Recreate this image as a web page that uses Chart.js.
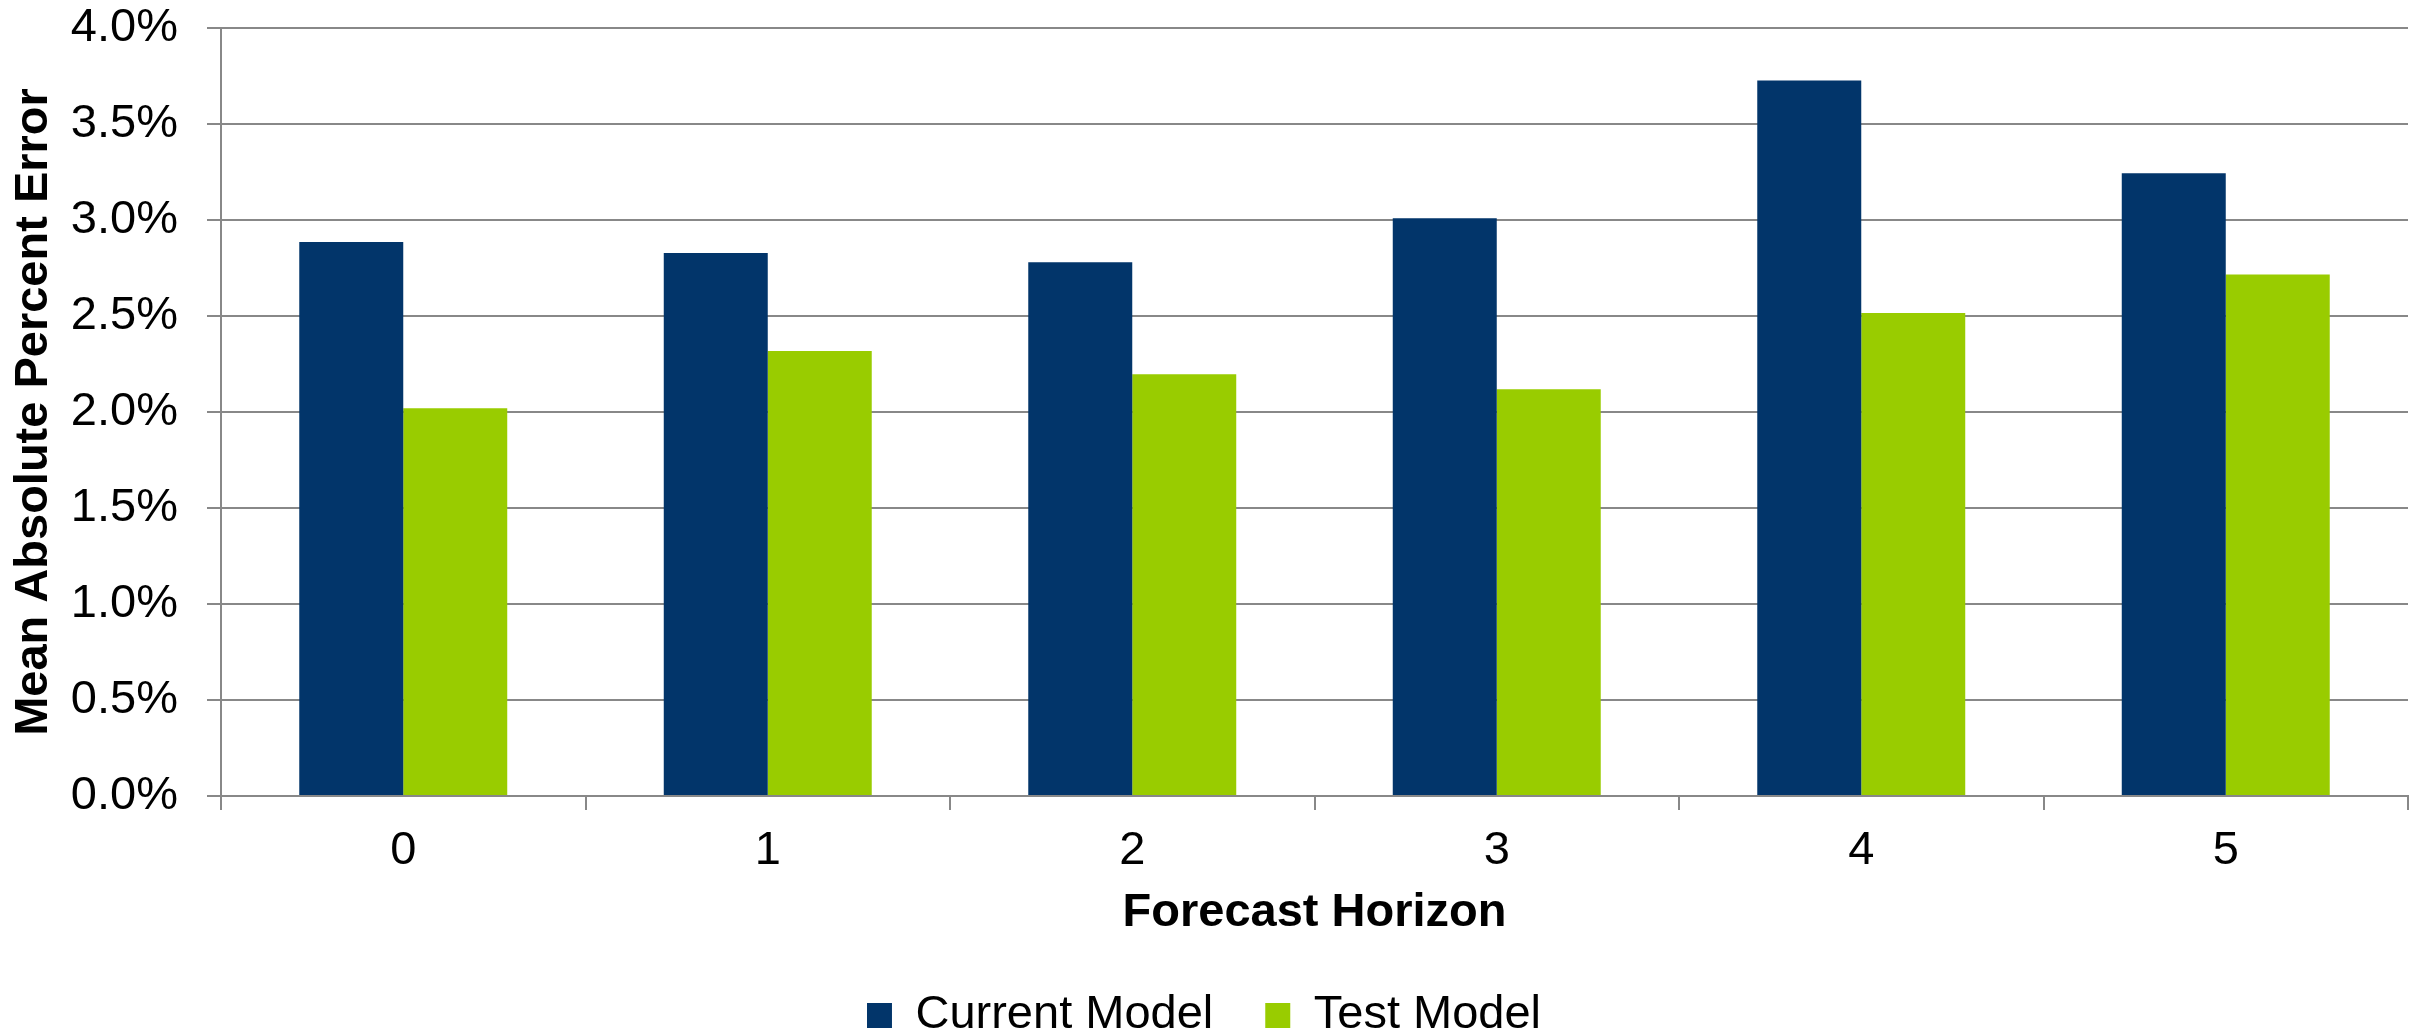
<!DOCTYPE html>
<html>
<head>
<meta charset="utf-8">
<script src="https://cdn.jsdelivr.net/npm/chart.js@4/dist/chart.umd.min.js"></script>
<style>
  html, body { margin: 0; padding: 0; background: #ffffff; }
  #wrap { width: 2425px; height: 1031px; position: relative; }
  canvas { display: block; }
</style>
</head>
<body>
<div id="wrap"><canvas id="c" width="2425" height="1031"></canvas></div>
<script>
const categories = ['0', '1', '2', '3', '4', '5'];
const currentModel = [2.885, 2.828, 2.78, 3.009, 3.727, 3.243];
const testModel = [2.02, 2.318, 2.197, 2.118, 2.516, 2.716];
const seriesNames = ['Current Model', 'Test Model'];
const yTickMin = 0;
const yTickMax = 4;
const yTickStep = 0.5;

const FONT = '"Liberation Sans", Arial, sans-serif';
const GRID = '#888888';

new Chart(document.getElementById('c'), {
  type: 'bar',
  data: {
    labels: categories,
    datasets: [
      { label: seriesNames[0], data: currentModel, backgroundColor: '#02356A', borderWidth: 0,
        categoryPercentage: 0.5706, barPercentage: 1.0 },
      { label: seriesNames[1], data: testModel, backgroundColor: '#99CC00', borderWidth: 0,
        categoryPercentage: 0.5706, barPercentage: 1.0 }
    ]
  },
  options: {
    responsive: false,
    animation: false,
    devicePixelRatio: 1,
    layout: { padding: { left: 0, right: 17, top: 0, bottom: -18 } },
    plugins: {
      tooltip: { enabled: false },
      legend: {
        position: 'bottom',
        labels: {
          font: { family: FONT, size: 47 },
          color: '#000000',
          boxWidth: 25,
          boxHeight: 25,
          padding: 52
        }
      }
    },
    scales: {
      x: {
        offset: true,
        grid: { display: true, drawOnChartArea: false, drawTicks: true, tickLength: 14, color: GRID, lineWidth: 2 },
        border: { display: true, color: GRID, width: 2 },
        ticks: { font: { family: FONT, size: 47 }, color: '#000000', padding: 13 },
        title: {
          display: true, text: 'Forecast Horizon', color: '#000000',
          font: { family: FONT, size: 47, weight: 'bold', lineHeight: 1 },
          padding: { top: 0, bottom: 3 }
        },
        afterFit: (scale) => { scale.height = 144; }
      },
      y: {
        min: yTickMin,
        max: yTickMax,
        grid: { color: GRID, lineWidth: 2, tickLength: 14, drawTicks: true },
        border: { display: true, color: GRID, width: 2 },
        ticks: {
          stepSize: yTickStep,
          font: { family: FONT, size: 47 },
          color: '#000000',
          padding: 29,
          callback: (v) => Number(v).toFixed(1) + '%'
        },
        title: {
          display: true, text: 'Mean Absolute Percent Error', color: '#000000',
          font: { family: FONT, size: 47, weight: 'bold', lineHeight: 1 },
          padding: { top: 11, bottom: 0 }
        },
        afterFit: (scale) => { scale.width = 221; scale.paddingTop = 28; scale.paddingBottom = 0; }
      }
    }
  }
});
</script>
</body>
</html>
